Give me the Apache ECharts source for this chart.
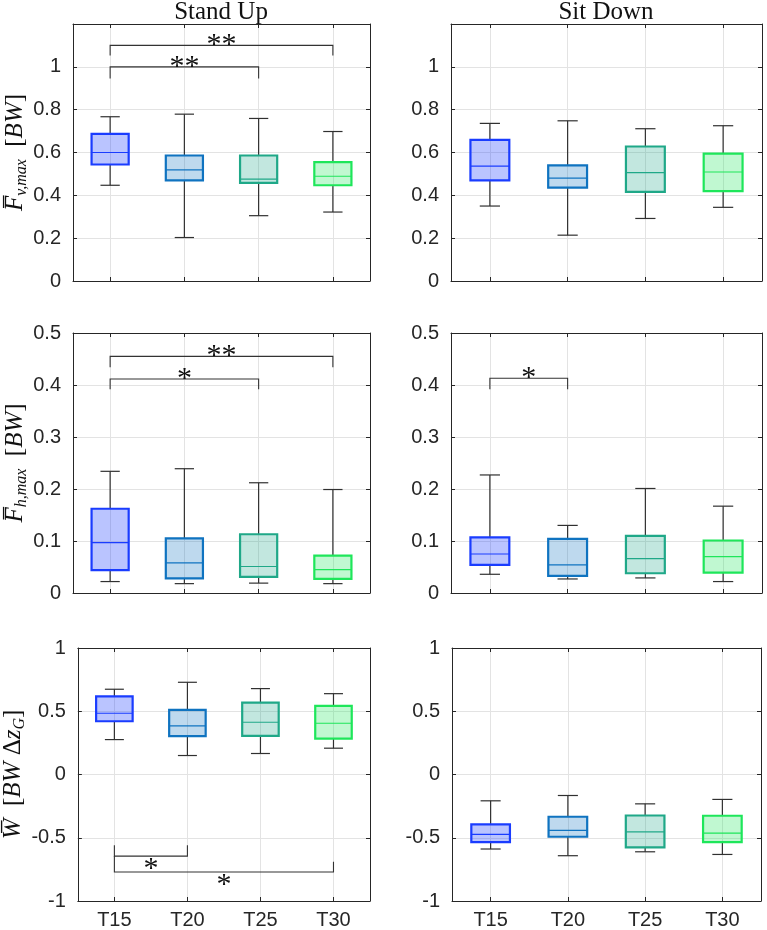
<!DOCTYPE html>
<html>
<head>
<meta charset="utf-8">
<script src="https://cdn.jsdelivr.net/npm/echarts@6/dist/echarts.min.js"></script>
<style>
html,body{margin:0;padding:0;background:#fff;}
#chart{width:767px;height:930px;}
</style>
</head>
<body>
<div id="chart"></div>
<script>
// ---------- DATA ----------
const categories = ['T15', 'T20', 'T25', 'T30'];
const columnTitles = ['Stand Up', 'Sit Down'];

// five-number summaries per category: [min, q1, median, q3, max]
const standUpFv = [
  [0.447, 0.544, 0.600, 0.687, 0.767],
  [0.203, 0.470, 0.519, 0.586, 0.779],
  [0.305, 0.458, 0.476, 0.586, 0.759],
  [0.322, 0.447, 0.489, 0.555, 0.698]
];
const sitDownFv = [
  [0.350, 0.470, 0.536, 0.659, 0.736],
  [0.214, 0.436, 0.480, 0.540, 0.748],
  [0.292, 0.416, 0.506, 0.628, 0.711],
  [0.344, 0.420, 0.509, 0.595, 0.725]
];
const standUpFh = [
  [0.022, 0.044, 0.097, 0.162, 0.234],
  [0.018, 0.028, 0.058, 0.105, 0.239],
  [0.019, 0.031, 0.051, 0.113, 0.212],
  [0.018, 0.027, 0.045, 0.072, 0.199]
];
const sitDownFh = [
  [0.036, 0.054, 0.075, 0.107, 0.227],
  [0.027, 0.033, 0.054, 0.104, 0.130],
  [0.029, 0.038, 0.066, 0.110, 0.201],
  [0.022, 0.039, 0.070, 0.101, 0.167]
];
const standUpW = [
  [0.276, 0.421, 0.484, 0.618, 0.674],
  [0.150, 0.303, 0.384, 0.511, 0.729],
  [0.166, 0.305, 0.413, 0.568, 0.679],
  [0.208, 0.284, 0.405, 0.542, 0.639]
];
const sitDownW = [
  [-0.589, -0.534, -0.474, -0.395, -0.208],
  [-0.642, -0.492, -0.442, -0.334, -0.166],
  [-0.611, -0.576, -0.453, -0.324, -0.232],
  [-0.632, -0.534, -0.463, -0.326, -0.197]
];

// significance brackets: [fromCat, toCat, barY, leftEndY, rightEndY]
const sigStandUpFv = [[1, 3, 1.0, 0.945, 0.945], [1, 4, 1.10, 1.053, 1.053]];
const sigStandUpFvLabels = ['**', '**'];
const sigSitDownFv = [];
const sigSitDownFvLabels = [];
const sigStandUpFh = [[1, 3, 0.4115, 0.392, 0.392], [1, 4, 0.455, 0.434, 0.434]];
const sigStandUpFhLabels = ['*', '**'];
const sigSitDownFh = [[1, 2, 0.413, 0.392, 0.392]];
const sigSitDownFhLabels = ['*'];
const sigStandUpW = [[1, 2, -0.645, -0.56, -0.56], [1, 4, -0.771, -0.645, -0.689]];
const sigStandUpWLabels = ['*', '*'];
const sigSitDownW = [];
const sigSitDownWLabels = [];

// y axis ranges: [min, max, interval]
const yRangeFv = [0, 1.2, 0.2];
const yRangeFh = [0, 0.5, 0.1];
const yRangeW = [-1, 1, 0.5];

// ---------- STYLE ----------
const edgeColors = ['#1a3cff', '#0f73c0', '#1fa888', '#1ee65a'];
const fillColors = ['rgba(26,60,255,0.30)', 'rgba(15,115,192,0.27)', 'rgba(31,168,136,0.27)', 'rgba(30,230,90,0.28)'];
const axisColor = '#262626';
const gridColor = '#e3e3e3';
const whiskerColor = '#303030';
const sansFont = '"Liberation Sans", Arial, sans-serif';
const serifFont = '"Liberation Serif", "DejaVu Serif", serif';

const panels = [
  {data: standUpFv, sig: sigStandUpFv, sigLabels: sigStandUpFvLabels, range: yRangeFv, grid: {left: 73, top: 24, width: 297, height: 257}, name: '{b|F\u0305}{s|v,max}{r|\u2002[}{b|BW}{r|]}', hideTop: true, xLabels: false},
  {data: sitDownFv, sig: sigSitDownFv, sigLabels: sigSitDownFvLabels, range: yRangeFv, grid: {left: 451, top: 24, width: 311, height: 257}, name: '', hideTop: true, xLabels: false},
  {data: standUpFh, sig: sigStandUpFh, sigLabels: sigStandUpFhLabels, range: yRangeFh, grid: {left: 73, top: 333, width: 297, height: 260}, name: '{b|F\u0305}{s|h,max}{r|\u2002[}{b|BW}{r|]}', hideTop: false, xLabels: false},
  {data: sitDownFh, sig: sigSitDownFh, sigLabels: sigSitDownFhLabels, range: yRangeFh, grid: {left: 451, top: 333, width: 311, height: 260}, name: '', hideTop: false, xLabels: false},
  {data: standUpW, sig: sigStandUpW, sigLabels: sigStandUpWLabels, range: yRangeW, grid: {left: 73, top: 648, width: 297, height: 253}, name: '{b|W\u0305}{r|\u2002[}{b|BW}{r| \u0394}{b|z}{s|G}{r|]}', hideTop: false, xLabels: true},
  {data: sitDownW, sig: sigSitDownW, sigLabels: sigSitDownWLabels, range: yRangeW, grid: {left: 452, top: 648, width: 309, height: 253}, name: '', hideTop: false, xLabels: true}
];

const nameRich = {
  b: {fontFamily: serifFont, fontStyle: 'italic', fontSize: 25, lineHeight: 28, color: '#111'},
  s: {fontFamily: serifFont, fontStyle: 'italic', fontSize: 16, lineHeight: 10, verticalAlign: 'bottom', color: '#111'},
  r: {fontFamily: serifFont, fontSize: 25, lineHeight: 28, color: '#111'}
};

function fmtNum(v) { return String(+v.toFixed(3)); }

function renderBox(params, api) {
  const x = api.value(0);
  const band = api.size([1, 0])[0];
  const bw = band * 0.5, cw = band * 0.26;
  const pMin = api.coord([x, api.value(1)]);
  const pQ1 = api.coord([x, api.value(2)]);
  const pMed = api.coord([x, api.value(3)]);
  const pQ3 = api.coord([x, api.value(4)]);
  const pMax = api.coord([x, api.value(5)]);
  const i = params.dataIndex;
  const cx = pMin[0];
  const wStyle = {stroke: whiskerColor, lineWidth: 1.2};
  return {
    type: 'group',
    children: [
      {type: 'line', shape: {x1: cx, y1: pMin[1], x2: cx, y2: pQ1[1]}, style: wStyle},
      {type: 'line', shape: {x1: cx, y1: pQ3[1], x2: cx, y2: pMax[1]}, style: wStyle},
      {type: 'line', shape: {x1: cx - cw / 2, y1: pMin[1], x2: cx + cw / 2, y2: pMin[1]}, style: wStyle},
      {type: 'line', shape: {x1: cx - cw / 2, y1: pMax[1], x2: cx + cw / 2, y2: pMax[1]}, style: wStyle},
      {type: 'rect', shape: {x: cx - bw / 2, y: pQ3[1], width: bw, height: pQ1[1] - pQ3[1]},
        style: {fill: fillColors[i], stroke: edgeColors[i], lineWidth: 2.2}},
      {type: 'line', shape: {x1: cx - bw / 2, y1: pMed[1], x2: cx + bw / 2, y2: pMed[1]},
        style: {stroke: edgeColors[i], lineWidth: 1.2}}
    ]
  };
}

function makeSigRenderer(labels) {
  return function (params, api) {
    const x1 = api.value(0), x2 = api.value(1), y = api.value(2);
    const yl = api.value(3), yr = api.value(4);
    const label = labels[params.dataIndex];
    const a = api.coord([x1, yl]);
    const b = api.coord([x1, y]);
    const c = api.coord([x2, y]);
    const d = api.coord([x2, yr]);
    const below = yl > y;
    const tx = (b[0] + c[0]) / 2;
    const ty = below ? b[1] + 13 : b[1];
    return {
      type: 'group',
      children: [
        {type: 'polyline', shape: {points: [a, b, c, d]}, style: {stroke: '#333', lineWidth: 1.1, fill: null}},
        {type: 'text', x: tx, y: ty, style: {text: label, font: '30px ' + serifFont, fill: '#111', align: 'center', verticalAlign: 'middle'}}
      ]
    };
  };
}

const grid = [], xAxis = [], yAxis = [], series = [];
panels.forEach((p, k) => {
  grid.push(Object.assign({containLabel: false}, p.grid));
  const xBase = {
    type: 'value', gridIndex: k, min: 0.5, max: 4.5,
    axisLine: {show: true, onZero: false, lineStyle: {color: axisColor, width: 1}},
    axisTick: {show: true, inside: true, length: 4, lineStyle: {color: axisColor}}
  };
  xAxis.push(Object.assign({}, xBase, {
    position: 'bottom',
    axisLabel: {
      show: p.xLabels, margin: 9, fontFamily: sansFont, fontSize: 20, color: axisColor,
      formatter: v => (Number.isInteger(v) && v >= 1 && v <= 4) ? categories[v - 1] : ''
    },
    splitLine: {show: true, lineStyle: {color: gridColor, width: 1}}
  }));
  xAxis.push(Object.assign({}, xBase, {
    position: 'top', axisLabel: {show: false}, splitLine: {show: false}
  }));
  const yBase = {
    type: 'value', gridIndex: k, min: p.range[0], max: p.range[1], interval: p.range[2],
    axisLine: {show: true, onZero: false, lineStyle: {color: axisColor, width: 1}},
    axisTick: {show: true, inside: true, length: 4, lineStyle: {color: axisColor}}
  };
  yAxis.push(Object.assign({}, yBase, {
    position: 'left',
    name: p.name, nameLocation: 'middle', nameRotate: 90, nameGap: 40,
    nameTextStyle: {rich: nameRich},
    axisLabel: {
      show: true, margin: 12, fontFamily: sansFont, fontSize: 20, color: axisColor,
      formatter: v => (p.hideTop && v > p.range[1] - 1e-6) ? '' : fmtNum(v)
    },
    splitLine: {show: true, lineStyle: {color: gridColor, width: 1}}
  }));
  yAxis.push(Object.assign({}, yBase, {
    position: 'right', axisLabel: {show: false}, splitLine: {show: false}
  }));
  series.push({
    type: 'custom', xAxisIndex: 2 * k, yAxisIndex: 2 * k,
    renderItem: renderBox,
    encode: {x: 0, y: [1, 2, 3, 4, 5]},
    data: p.data.map((r, i) => [i + 1].concat(r)),
    clip: false, silent: true
  });
  if (p.sig.length) {
    series.push({
      type: 'custom', xAxisIndex: 2 * k, yAxisIndex: 2 * k,
      renderItem: makeSigRenderer(p.sigLabels),
      encode: {x: [0, 1], y: [2, 3, 4]},
      data: p.sig,
      clip: false, silent: true
    });
  }
});

const chart = echarts.init(document.getElementById('chart'), null, {renderer: 'canvas'});
chart.setOption({
  animation: false,
  backgroundColor: '#ffffff',
  grid, xAxis, yAxis, series,
  graphic: [
    {type: 'text', x: 221, y: 12, style: {text: columnTitles[0], font: '25px ' + serifFont, fill: '#111', align: 'center', verticalAlign: 'middle'}},
    {type: 'text', x: 606, y: 12, style: {text: columnTitles[1], font: '25px ' + serifFont, fill: '#111', align: 'center', verticalAlign: 'middle'}}
  ]
});
</script>
</body>
</html>
